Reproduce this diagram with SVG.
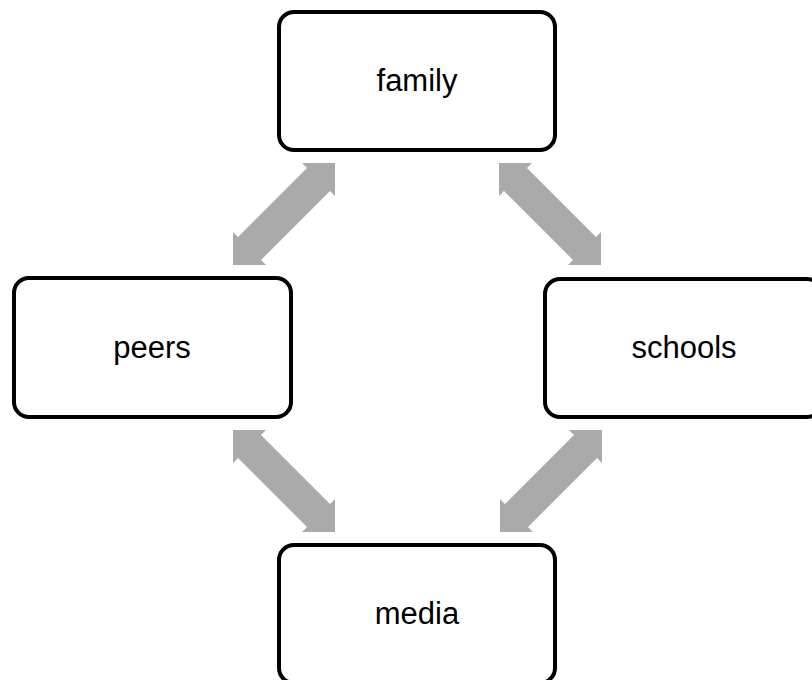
<svg xmlns="http://www.w3.org/2000/svg" xmlns:xlink="http://www.w3.org/1999/xlink" width="812" height="680" viewBox="0 0 812 680">
  <style>
    .box { fill: #ffffff; stroke: #000000; stroke-width: 4; }
    .label { font-family: "Liberation Sans", Arial, sans-serif; font-size: 31px; fill: #000000; text-anchor: middle; }
    .arrow { fill: #aaaaaa; stroke: none; }
  </style>
  <defs>
    <path id="dblArrow" d="M102,0 L102,33 L97,28 L28,97 L33,102 L0,102 L0,69 L5,74 L74,5 L69,0 Z"/>
  </defs>
  <rect width="812" height="680" fill="#ffffff"/>
  <g id="connectors">
    <use xlink:href="#dblArrow" href="#dblArrow" class="arrow" transform="translate(233,163)"/>
    <use xlink:href="#dblArrow" href="#dblArrow" class="arrow" transform="translate(601,163) scale(-1,1)"/>
    <use xlink:href="#dblArrow" href="#dblArrow" class="arrow" transform="translate(335,430) scale(-1,1)"/>
    <use xlink:href="#dblArrow" href="#dblArrow" class="arrow" transform="translate(500,430)"/>
  </g>
  <g id="family">
    <rect class="box" x="279" y="12" width="276" height="138" rx="15" ry="15"/>
    <text class="label" x="417" y="91">family</text>
  </g>
  <g id="peers">
    <rect class="box" x="14" y="278" width="277" height="139" rx="15" ry="15"/>
    <text class="label" x="152" y="358">peers</text>
  </g>
  <g id="schools">
    <rect class="box" x="545" y="279" width="277" height="138" rx="15" ry="15"/>
    <text class="label" x="684" y="358">schools</text>
  </g>
  <g id="media">
    <rect class="box" x="279" y="545" width="276" height="138" rx="15" ry="15"/>
    <text class="label" x="417" y="624">media</text>
  </g>
</svg>
